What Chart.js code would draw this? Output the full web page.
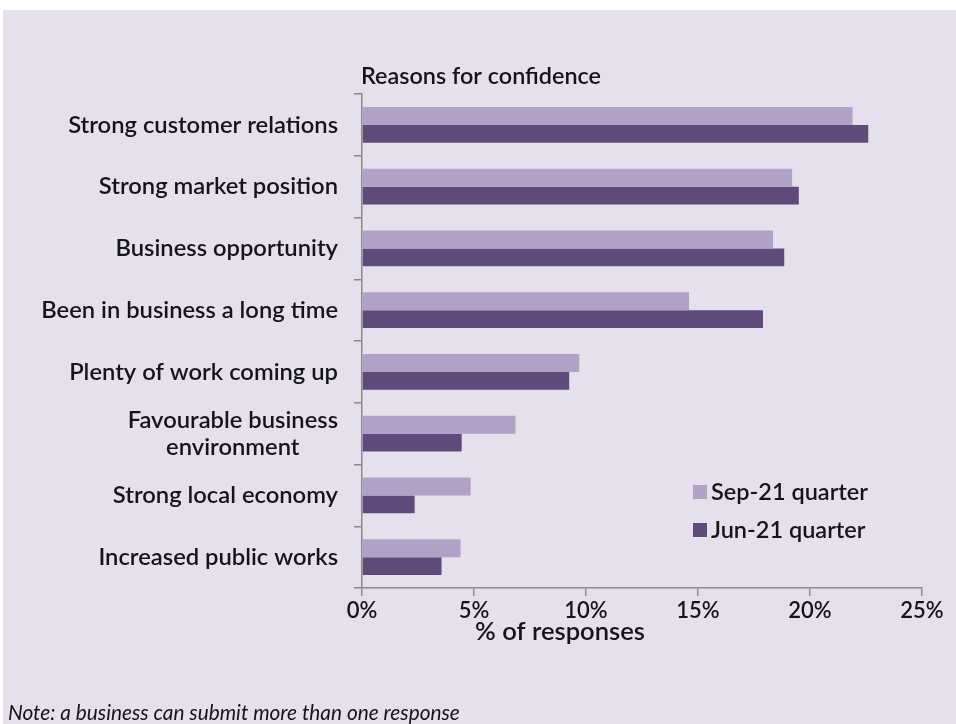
<!DOCTYPE html>
<html>
<head>
<meta charset="utf-8">
<script src="https://cdn.jsdelivr.net/npm/chart.js@4/dist/chart.umd.min.js"></script>
<style>
html,body{margin:0;padding:0;background:#fff;}
#wrap{width:956px;height:724px;position:relative;}
</style>
</head>
<body>
<div id="wrap"><canvas id="c" width="956" height="724"></canvas></div>
<script>
const categories = [
  "Strong customer relations",
  "Strong market position",
  "Business opportunity",
  "Been in business a long time",
  "Plenty of work coming up",
  ["Favourable business", "environment"],
  "Strong local economy",
  "Increased public works"
];
const seriesNames = ["Sep-21 quarter", "Jun-21 quarter"];
const sepValues = [21.9, 19.2, 18.35, 14.6, 9.7, 6.85, 4.85, 4.4];
const junValues = [22.6, 19.5, 18.85, 17.9, 9.25, 4.45, 2.35, 3.55];
const xTickValues = [0, 5, 10, 15, 20, 25];
const chartTitle = "Reasons for confidence";
const xAxisTitle = "% of responses";
const noteText = "Note: a business can submit more than one response";

const COLORS = ["#b1a1c7", "#5f4a7b"];
const BG = "#e5e0eb";
const TEXT = "#15141c";
const AXIS = "#8a8a8a";
const FONT = "Lato, 'Open Sans', sans-serif";

function fitFont(ctx, text, width, weight, style) {
  let size = 20;
  ctx.font = (style || "") + " " + weight + " " + size + "px " + FONT;
  const w = ctx.measureText(text).width;
  size = size * width / w;
  return (style || "") + " " + weight + " " + size.toFixed(2) + "px " + FONT;
}

const decor = {
  id: "decor",
  beforeDraw(chart) {
    const ctx = chart.ctx;
    ctx.save();
    ctx.fillStyle = "#ffffff";
    ctx.fillRect(0, 0, chart.width, chart.height);
    ctx.fillStyle = BG;
    ctx.fillRect(3, 10, chart.width - 3, chart.height - 10);
    ctx.restore();
  },
  afterDraw(chart) {
    const ctx = chart.ctx;
    const ys = chart.scales.y;
    const area = chart.chartArea;
    ctx.save();
    ctx.fillStyle = TEXT;
    ctx.textBaseline = "middle";
    // title
    ctx.font = fitFont(ctx, chartTitle, 240, 600);
    ctx.textAlign = "center";
    ctx.fillText(chartTitle, 481, 76);
    // y labels
    ctx.font = fitFont(ctx, categories[0], 270, 600);
    categories.forEach((lab, i) => {
      const lines = Array.isArray(lab) ? lab : [lab];
      const w = Math.max(...lines.map(l => ctx.measureText(l).width));
      const cy = ys.getPixelForValue(i);
      const lh = 27;
      const x0 = area.left - 24 - w / 2;
      lines.forEach((l, k) => {
        ctx.textAlign = "center";
        ctx.fillText(l, x0, cy + (k - (lines.length - 1) / 2) * lh);
      });
    });
    // x axis title
    ctx.font = fitFont(ctx, xAxisTitle, 170, 600);
    ctx.textAlign = "center";
    ctx.fillText(xAxisTitle, 560, 632);
    // note
    ctx.font = fitFont(ctx, noteText, 452, 400, "italic");
    ctx.textAlign = "left";
    ctx.fillText(noteText, 8, 713);
    // legend
    const lx = 693, ly = [492, 530];
    const lf = fitFont(ctx, seriesNames[0], 157, 600);
    seriesNames.forEach((n, k) => {
      ctx.fillStyle = COLORS[k];
      ctx.fillRect(lx, ly[k] - 7, 14, 14);
      ctx.fillStyle = TEXT;
      ctx.font = lf;
      ctx.textAlign = "left";
      ctx.fillText(n, lx + 18, ly[k]);
    });
    ctx.restore();
  }
};

new Chart(document.getElementById("c"), {
  type: "bar",
  data: {
    labels: categories,
    datasets: [
      { label: seriesNames[0], data: sepValues, backgroundColor: COLORS[0], borderWidth: 0 },
      { label: seriesNames[1], data: junValues, backgroundColor: COLORS[1], borderWidth: 0 }
    ]
  },
  options: {
    indexAxis: "y",
    responsive: false,
    animation: false,
    devicePixelRatio: 1,
    layout: { padding: { left: 0, right: 34, top: 94, bottom: 0 } },
    datasets: { bar: { categoryPercentage: 0.58, barPercentage: 1.0 } },
    plugins: { legend: { display: false }, tooltip: { enabled: false }, title: { display: false } },
    scales: {
      x: {
        min: 0, max: 25,
        afterBuildTicks(scale) { scale.ticks = xTickValues.map(v => ({ value: v })); },
        ticks: {
          callback: v => v + "%",
          color: TEXT,
          font: { family: FONT, size: 22, weight: 600 },
          padding: 2,
          maxRotation: 0
        },
        grid: { drawOnChartArea: false, drawTicks: true, tickLength: 8, color: AXIS, lineWidth: 1.5 },
        border: { color: AXIS, width: 1.5 },
        afterFit(scale) { scale.height = 136; }
      },
      y: {
        ticks: { display: false },
        grid: { drawOnChartArea: false, drawTicks: true, tickLength: 8, color: AXIS, lineWidth: 1.5, offset: true },
        border: { color: AXIS, width: 1.5 },
        afterFit(scale) { scale.width = 362; }
      }
    }
  },
  plugins: [decor]
});
</script>
</body>
</html>
